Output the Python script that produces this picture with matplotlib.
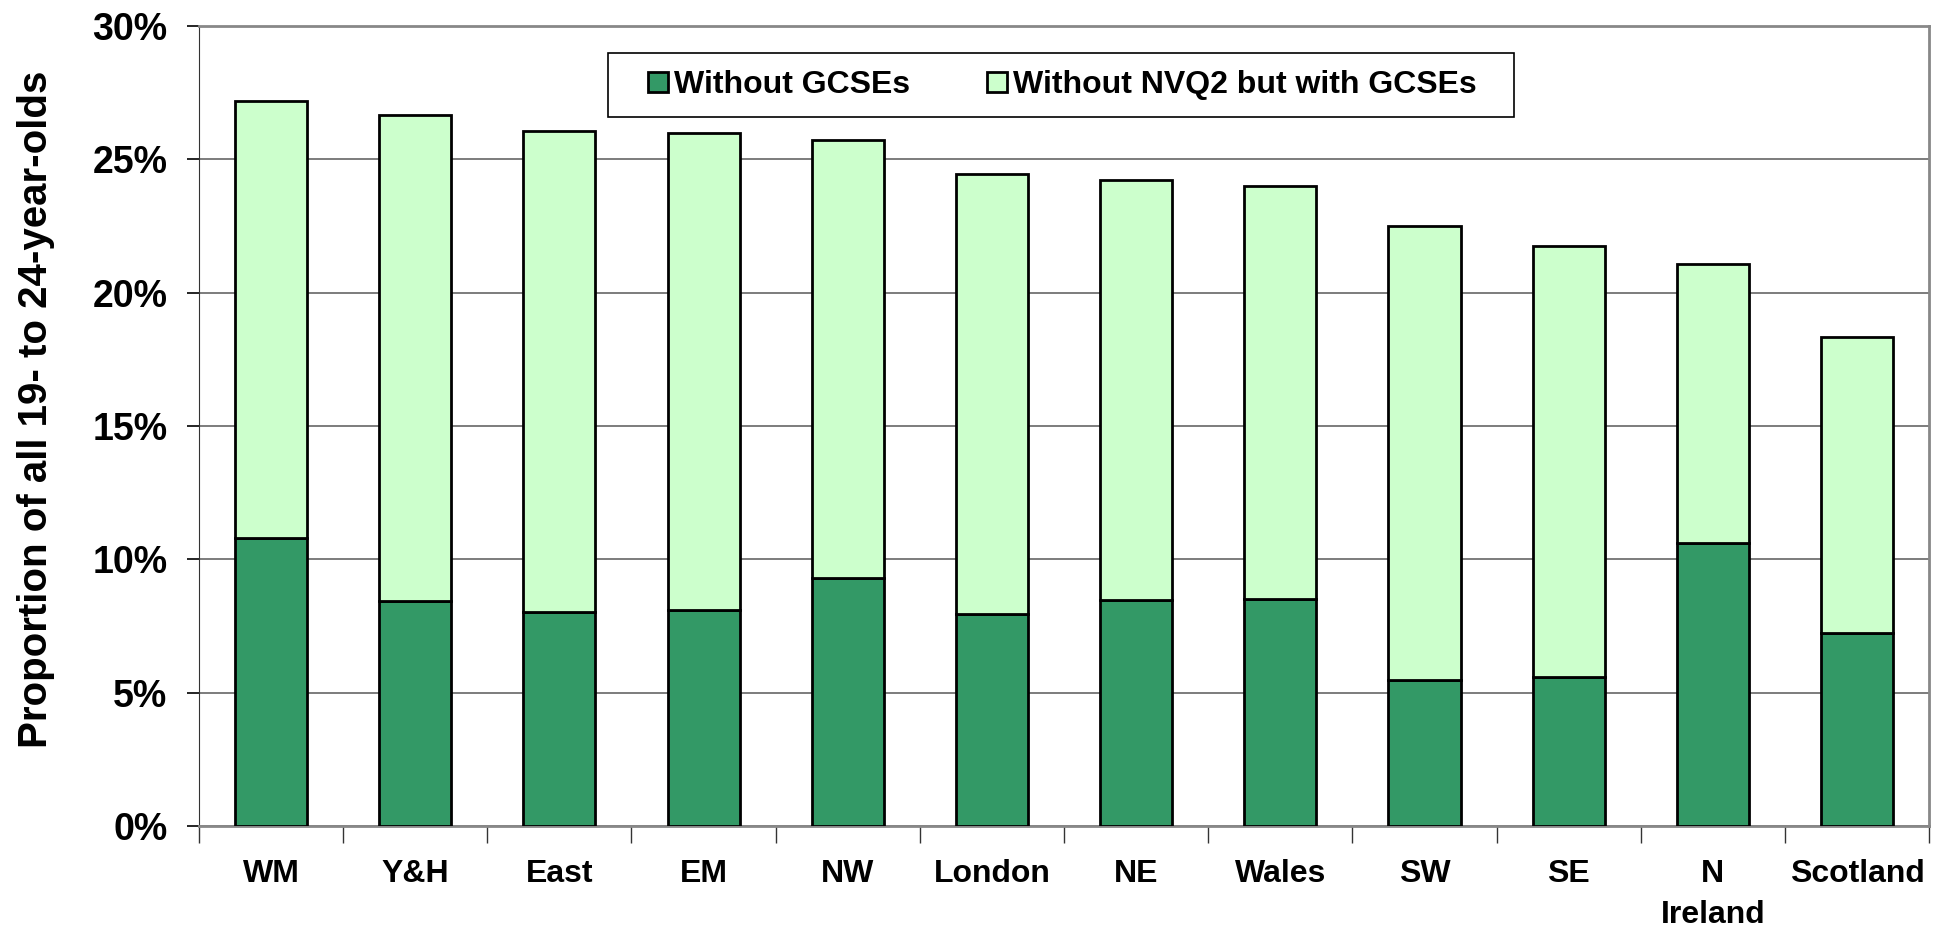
import matplotlib
matplotlib.use("Agg")
import matplotlib.pyplot as plt
from matplotlib.patches import Rectangle
from matplotlib.ticker import FixedLocator, PercentFormatter

plt.rcParams['font.family'] = ['Liberation Sans', 'DejaVu Sans']
plt.rcParams['font.weight'] = 'bold'

regions = ["WM", "Y&H", "East", "EM", "NW", "London", "NE", "Wales", "SW", "SE", "N\nIreland", "Scotland"]
without_gcses = [10.8, 8.43, 8.01, 8.10, 9.31, 7.96, 8.47, 8.52, 5.46, 5.60, 10.60, 7.22]
total = [27.18, 26.67, 26.06, 25.97, 25.74, 24.44, 24.21, 23.98, 22.50, 21.76, 21.06, 18.33]
without_nvq2_with_gcses = [t - d for t, d in zip(total, without_gcses)]
yticks = [0, 5, 10, 15, 20, 25, 30]

dark = "#339966"
light = "#CCFFCC"

W, H = 1935, 927
fig = plt.figure(figsize=(W / 100, H / 100), dpi=100)
ax = fig.add_axes([0.1028, 0.109, 0.8942, 0.863])

x = list(range(len(regions)))
ax.bar(x, without_gcses, width=0.5, color=dark, edgecolor="black", linewidth=2,
       label="Without GCSEs", zorder=3)
ax.bar(x, without_nvq2_with_gcses, width=0.5, bottom=without_gcses, color=light,
       edgecolor="black", linewidth=2, label="Without NVQ2 but with GCSEs", zorder=3)

ax.set_xlim(-0.5, len(regions) - 0.5)
ax.set_ylim(0, 30)
ax.set_yticks(yticks)
ax.yaxis.set_major_formatter(PercentFormatter(decimals=0))
ax.yaxis.grid(True, color="#666666", linewidth=1.2, zorder=0)

# x: boundary ticks (major) and centered labels (minor)
ax.xaxis.set_major_locator(FixedLocator([i - 0.5 for i in range(len(regions) + 1)]))
ax.xaxis.set_major_formatter(plt.NullFormatter())
ax.xaxis.set_minor_locator(FixedLocator(x))
ax.set_xticklabels(regions, minor=True)
ax.tick_params(axis="x", which="major", length=12, width=1, color="#333333", direction="out")
ax.tick_params(axis="x", which="minor", length=0, pad=24, labelsize=23)
ax.tick_params(axis="y", length=8.6, width=1.2, labelsize=27, pad=14)
for lbl in ax.get_xticklabels(minor=True):
    lbl.set_fontweight("bold")
    lbl.set_verticalalignment("top")
    lbl.set_linespacing(1.45)
for lbl in ax.get_yticklabels():
    lbl.set_fontweight("bold")

ax.set_ylabel("Proportion of all 19- to 24-year-olds", fontsize=29, fontweight="bold")
ax.yaxis.set_label_coords(-0.083, 0.521)

for s in ["top", "right"]:
    ax.spines[s].set_color("#888888")
    ax.spines[s].set_linewidth(2)
ax.spines["left"].set_color("#333333")
ax.spines["bottom"].set_color("#888888")
ax.spines["bottom"].set_linewidth(2)

leg = ax.legend(loc="center left", bbox_to_anchor=(0.2595, 0.926), ncol=2,
                frameon=False, handlelength=0.62, handleheight=0.62,
                handletextpad=0.2, columnspacing=2.4, borderpad=0,
                borderaxespad=0, prop={"weight": "bold", "size": 23})

# Legend box with wider side padding, as in the reference
fig.canvas.draw()
bb = leg.get_window_extent()
pad_l, pad_r, box_h = 40, 37, 64
cy = (bb.y0 + bb.y1) / 2
rect = Rectangle(((bb.x0 - pad_l) / W, (cy - box_h / 2) / H),
                 (bb.width + pad_l + pad_r) / W, box_h / H,
                 transform=fig.transFigure, facecolor="white", edgecolor="black",
                 linewidth=1.2, zorder=4)
fig.add_artist(rect)
leg.set_zorder(5)
fig.artists.remove(rect) if False else None
leg.remove()
fig.add_artist(leg)

fig.savefig("out.png", dpi=100)
